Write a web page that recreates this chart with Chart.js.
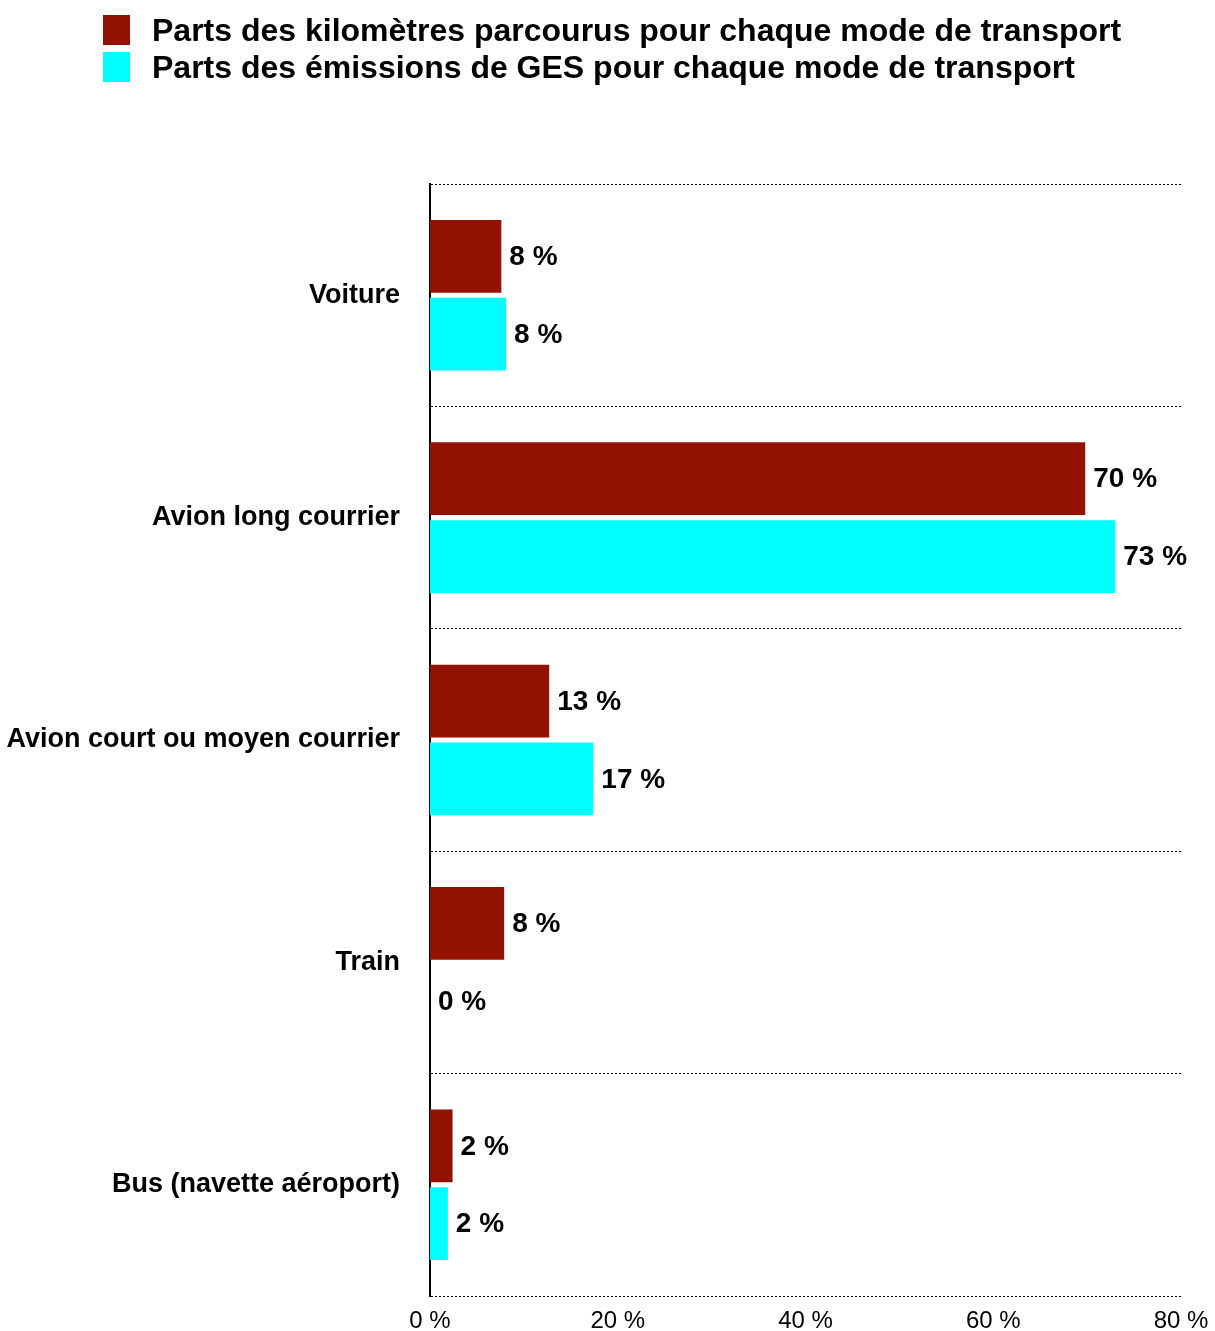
<!DOCTYPE html>
<html lang="fr">
<head>
<meta charset="utf-8">
<title>Parts des modes de transport</title>
<script src="https://cdn.jsdelivr.net/npm/chart.js@4"></script>
<style>
  html, body { margin: 0; padding: 0; background: #fff; }
  #wrap { width: 1215px; height: 1331px; position: relative; }
</style>
</head>
<body>
<div id="wrap"><canvas id="myChart"></canvas></div>
<script>
// modes de transport et parts (%)
const modes = ['Voiture', 'Avion long courrier', 'Avion court ou moyen courrier', 'Train', 'Bus (navette aéroport)'];
const partsKm = [7.6, 69.8, 12.7, 7.9, 2.4];
const partsGes = [8.1, 73.0, 17.4, 0, 1.9];
const xTicks = [0, 20, 40, 60, 80];

const FONT = "'Liberation Sans', Arial, Helvetica, sans-serif";

// legend drawn by hand: boxes on the left, one row per dataset
const legendPlugin = {
  id: 'topLegend',
  afterDraw(chart) {
    const ctx = chart.ctx;
    ctx.save();
    ctx.font = 'bold 32px ' + FONT;
    ctx.textBaseline = 'middle';
    ctx.textAlign = 'left';
    chart.data.datasets.forEach(function (ds, i) {
      const top = 15 + i * 37;
      ctx.fillStyle = ds.backgroundColor;
      ctx.fillRect(103, top, 27, 30);
      ctx.fillStyle = '#000';
      ctx.fillText(ds.label, 152, top + 17);
    });
    ctx.restore();
  }
};

// value labels at the end of each bar
const valueLabels = {
  id: 'valueLabels',
  afterDatasetsDraw(chart) {
    const ctx = chart.ctx;
    ctx.save();
    ctx.font = 'bold 28px ' + FONT;
    ctx.fillStyle = '#000';
    ctx.textBaseline = 'middle';
    ctx.textAlign = 'left';
    chart.data.datasets.forEach(function (ds, i) {
      chart.getDatasetMeta(i).data.forEach(function (bar, j) {
        ctx.fillText(Math.round(ds.data[j]) + ' %', bar.x + 8, bar.y + 1);
      });
    });
    ctx.restore();
  }
};

new Chart(document.getElementById('myChart'), {
  type: 'bar',
  data: {
    labels: modes,
    datasets: [{
      label: 'Parts des kilomètres parcourus pour chaque mode de transport',
      data: partsKm,
      backgroundColor: '#931100',
      categoryPercentage: 0.70,
      barPercentage: 0.935
    }, {
      label: 'Parts des émissions de GES pour chaque mode de transport',
      data: partsGes,
      backgroundColor: '#00ffff',
      categoryPercentage: 0.70,
      barPercentage: 0.935
    }]
  },
  options: {
    indexAxis: 'y',
    responsive: true,
    maintainAspectRatio: false,
    animation: false,
    layout: {
      padding: { top: 184, right: 34, bottom: 0, left: 0 }
    },
    plugins: {
      legend: { display: false },
      tooltip: { enabled: false }
    },
    scales: {
      x: {
        min: 0,
        max: 80,
        afterBuildTicks(scale) {
          scale.ticks = xTicks.map(v => ({ value: v }));
        },
        afterFit(scale) {
          scale.height = 35;
          scale.paddingLeft = 0;
          scale.paddingRight = 0;
        },
        grid: { display: false, drawTicks: false },
        border: { display: false },
        ticks: {
          padding: 11,
          color: '#000',
          font: { family: FONT, size: 24 },
          callback: v => v + ' %'
        }
      },
      y: {
        afterFit(scale) {
          scale.width = 430;
          scale.paddingTop = 0;
          scale.paddingBottom = 0;
        },
        grid: {
          color: '#000',
          lineWidth: 1,
          drawTicks: false
        },
        // dash applies to the grid lines, the axis line itself stays solid
        border: { display: true, color: '#000', width: 2, dash: [2, 2] },
        ticks: {
          padding: 30,
          color: '#000',
          font: { family: FONT, size: 27, weight: 'bold' }
        }
      }
    }
  },
  plugins: [legendPlugin, valueLabels]
});
</script>
</body>
</html>
